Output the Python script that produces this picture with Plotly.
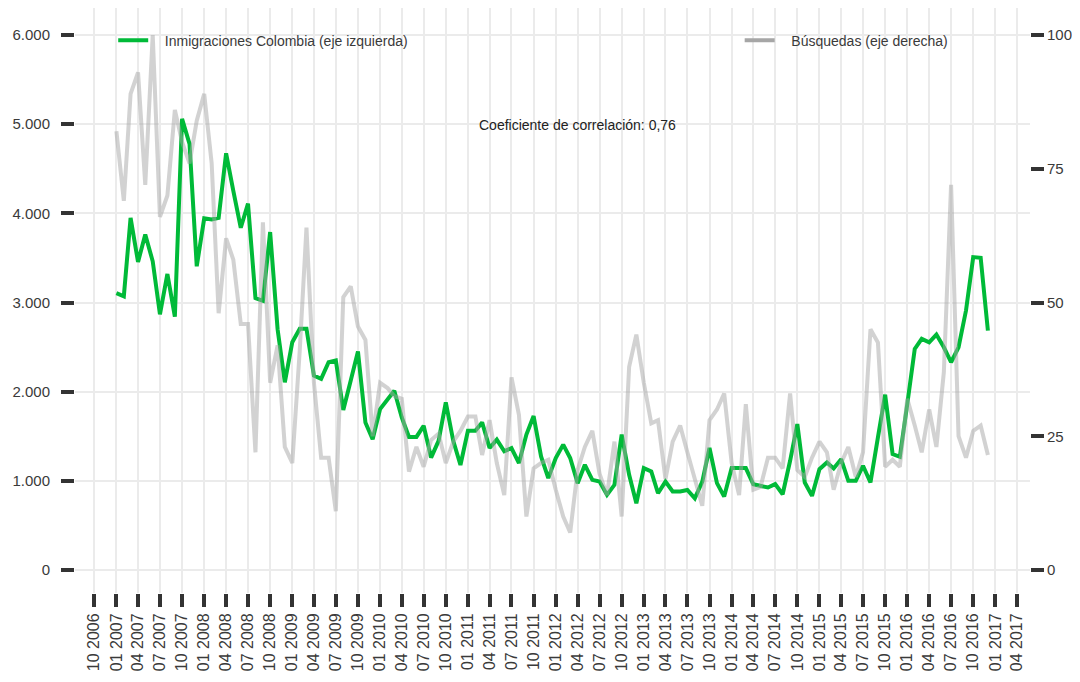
import pandas as pd
import plotly.graph_objects as go

# ---- data (monthly, Jan 2007 - Dec 2016) ----
start_month = "2007-01-01"
n_months = 120

inmigraciones = [
    3105, 3070, 3950, 3455, 3763, 3462, 2868, 3320, 2842, 5060, 4778, 3406,
    3944, 3932, 3950, 4673, 4252, 3838, 4109, 3049, 3019, 3790, 2700, 2105,
    2555, 2705, 2705, 2180, 2143, 2330, 2350, 1794, 2124, 2450, 1655, 1467,
    1805, 1917, 2011, 1711, 1493, 1493, 1617, 1261, 1448, 1880, 1448, 1178,
    1561, 1561, 1655, 1368, 1462, 1331, 1368, 1199, 1519, 1726, 1274, 1030,
    1256, 1406, 1256, 974, 1180, 1011, 992, 842, 955, 1519, 1068, 748,
    1143, 1105, 861, 992, 880, 880, 898, 804, 992, 1368, 974, 823,
    1143, 1143, 1143, 962, 940, 925, 963, 850, 1225, 1637, 981, 831,
    1131, 1206, 1139, 1243, 1000, 1000, 1169, 981, 1487, 1966, 1300, 1270,
    1861, 2479, 2592, 2554, 2640, 2498, 2330, 2498, 2910, 3509, 3502, 2685,
]

busquedas = [
    82, 69, 89, 93, 72, 100, 66, 70, 86, 80, 76, 84,
    89, 76, 48, 62, 58, 46, 46, 22, 65, 35, 42, 23,
    20, 41, 64, 35, 21, 21, 11, 51, 53, 45.5, 43, 25,
    35, 34, 32.5, 32, 18.4, 23, 19.3, 24.3, 25.5, 20, 24, 26,
    28.7, 28.7, 21.5, 28, 20, 14, 36, 29, 10, 19, 20, 20.6,
    15, 10, 7, 18.7, 23, 26, 18, 14, 24, 10, 38, 44,
    35, 27.4, 28, 17, 24, 27, 22, 17, 12, 28, 30, 33,
    20, 14, 31, 15, 15.5, 21, 21, 19, 33, 18.7, 17.4, 21,
    24, 22, 15, 20, 23, 17.4, 22, 45, 42.5, 19.3, 20.6, 19.3,
    32, 27, 22, 30, 23, 37, 72, 25, 21, 26, 27, 21.5,
]

left_ticks = [0, 1000, 2000, 3000, 4000, 5000, 6000]
right_ticks = [0, 25, 50, 75, 100]
x_tick_dates = pd.date_range("2006-10-01", "2017-04-01", freq="3MS")

name_green = "Inmigraciones Colombia (eje izquierda)"
name_gray = "Búsquedas (eje derecha)"
annotation_text = "Coeficiente de correlación: 0,76"

months = pd.date_range(start_month, periods=n_months, freq="MS")

# ---- styles ----
GREEN = "#00BA38"
GRAY_LINE = "rgba(165,165,165,0.5)"
GRAY_LEG = "#A6A6A6"
FONT = "Liberation Sans, Arial, sans-serif"
TXT = "#3a3a3a"
GRID = "#EBEBEB"
PAD = "\u00a0\u00a0\u00a0"

fig = go.Figure()
fig.add_trace(go.Scatter(
    x=months, y=inmigraciones, mode="lines", name=PAD + name_green,
    line=dict(color=GREEN, width=4), yaxis="y", legend="legend",
))
fig.add_trace(go.Scatter(
    x=months, y=busquedas, mode="lines", name=name_gray,
    line=dict(color=GRAY_LINE, width=4), yaxis="y2", showlegend=False,
))
fig.add_trace(go.Scatter(
    x=[None], y=[None], mode="lines", name=PAD + name_gray,
    line=dict(color=GRAY_LEG, width=4), yaxis="y2", legend="legend2",
))

L_RANGE = [-258, 6303]

fig.update_layout(
    width=1064, height=666,
    margin=dict(l=67, r=42, t=0, b=81),
    paper_bgcolor="white", plot_bgcolor="white",
    separators=",.",
    font=dict(family=FONT, color=TXT, size=14),
    xaxis=dict(
        type="date",
        range=["2006-07-13", "2017-05-25"],
        tickvals=list(x_tick_dates),
        tickformat="%m %Y",
        tickangle=-90,
        showgrid=True, gridcolor=GRID, gridwidth=1.5,
        ticks="outside", ticklen=13, tickwidth=4, tickcolor="#333333",
        tickfont=dict(size=16, color=TXT),
        showline=False, zeroline=False,
    ),
    yaxis=dict(
        range=L_RANGE,
        tickvals=left_ticks,
        tickformat=",d",
        showgrid=True, gridcolor=GRID, gridwidth=1.5,
        ticks="outside", ticklen=13, tickwidth=4, tickcolor="#333333",
        tickfont=dict(size=15, color=TXT),
        ticklabelstandoff=8,
        showline=False, zeroline=False,
    ),
    yaxis2=dict(
        range=[L_RANGE[0] / 60, L_RANGE[1] / 60],
        tickvals=right_ticks,
        overlaying="y", side="right",
        showgrid=False,
        ticks="outside", ticklen=13, tickwidth=4, tickcolor="#333333",
        tickfont=dict(size=15, color=TXT),
        ticklabelstandoff=0,
        showline=False, zeroline=False,
    ),
    legend=dict(
        x=0.04, y=0.944, xanchor="left", yanchor="middle",
        bgcolor="rgba(0,0,0,0)", font=dict(size=14, color=TXT),
    ),
    legend2=dict(
        x=0.696, y=0.944, xanchor="left", yanchor="middle",
        bgcolor="rgba(0,0,0,0)", font=dict(size=14, color=TXT),
    ),
    annotations=[dict(
        text=annotation_text, xref="paper", yref="paper",
        x=0.526, y=0.800, xanchor="center", yanchor="middle",
        showarrow=False, font=dict(size=14, color="#222222"),
    )],
)

fig.write_html("out.html")
